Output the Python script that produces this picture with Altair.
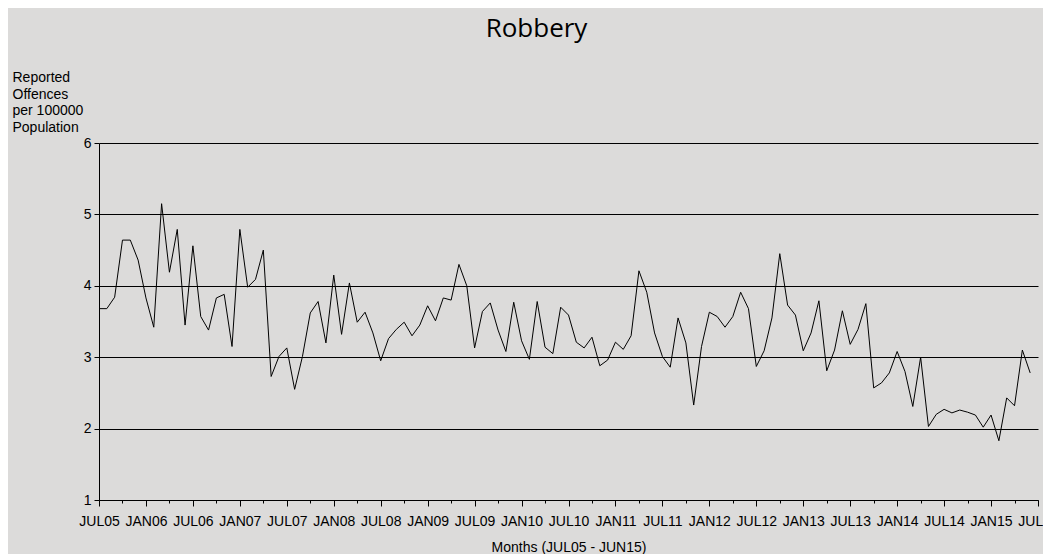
import altair as alt
import pandas as pd

title_text = "Robbery"
y_title_lines = ["Reported", "Offences", "per 100000", "Population"]
x_title = "Months (JUL05 - JUN15)"
tick_labels = ["JUL05", "JAN06", "JUL06", "JAN07", "JUL07", "JAN08", "JUL08",
               "JAN09", "JUL09", "JAN10", "JUL10", "JAN11", "JUL11", "JAN12",
               "JUL12", "JAN13", "JUL13", "JAN14", "JUL14", "JAN15", "JUL15"]
y_ticks = [1, 2, 3, 4, 5, 6]

# Monthly reported robbery offences per 100000 population, JUL05 .. JUN15
rate = [
    3.68, 3.68, 3.84, 4.64, 4.64, 4.36, 3.83, 3.42, 5.15, 4.19, 4.79, 3.45,
    4.56, 3.57, 3.38, 3.83, 3.88, 3.15, 4.79, 3.98, 4.09, 4.50, 2.73, 3.01,
    3.13, 2.55, 3.01, 3.62, 3.78, 3.20, 4.15, 3.32, 4.04, 3.49, 3.63, 3.34,
    2.95, 3.26, 3.39, 3.49, 3.30, 3.45, 3.72, 3.51, 3.83, 3.80, 4.30, 4.00,
    3.13, 3.64, 3.76, 3.38, 3.08, 3.77, 3.23, 2.97, 3.78, 3.14, 3.05, 3.70,
    3.59, 3.21, 3.13, 3.28, 2.88, 2.96, 3.21, 3.11, 3.30, 4.21, 3.91, 3.34,
    3.01, 2.86, 3.55, 3.20, 2.33, 3.15, 3.63, 3.57, 3.42, 3.57, 3.91, 3.68,
    2.87, 3.09, 3.55, 4.45, 3.73, 3.59, 3.09, 3.34, 3.79, 2.81, 3.10, 3.65,
    3.18, 3.39, 3.75, 2.57, 2.64, 2.78, 3.08, 2.80, 2.31, 3.00, 2.03, 2.20,
    2.27, 2.22, 2.26, 2.23, 2.19, 2.02, 2.19, 1.83, 2.43, 2.32, 3.10, 2.78,
]
month_index = list(range(len(rate)))

df = pd.DataFrame({"month": month_index, "rate": rate})

n_months = 6 * (len(tick_labels) - 1)
label_js = "[" + ",".join("'" + s + "'" for s in tick_labels) + "]"
label_expr = "datum.value % 6 === 0 ? " + label_js + "[datum.value / 6] : ''"

FONT = "Liberation Sans"
BG = "#dcdbda"

x_axis = alt.Axis(
    values=list(range(0, n_months + 1, 3)),
    labelExpr=label_expr,
    grid=False,
    domainColor="black",
    domainWidth=1,
    tickColor="black",
    tickWidth=1,
    tickSize={"condition": {"test": "datum.value % 6 === 0", "value": 6}, "value": 3},
    labelFont=FONT,
    labelFontSize=14,
    labelColor="black",
    labelPadding=8,
    labelFlush=False,
    labelOverlap=False,
    title=x_title,
    titleFont=FONT,
    titleFontSize=14,
    titleFontWeight="normal",
    titleColor="black",
    titleX=469.5,
    titleY=51.2,
    titleAlign="center",
    titleBaseline="alphabetic",
)

y_axis = alt.Axis(
    values=y_ticks,
    grid=True,
    gridColor="black",
    gridWidth=1,
    gridOpacity=1,
    domainColor="black",
    domainWidth=1,
    tickColor="black",
    tickSize=5,
    labelFont=FONT,
    labelFontSize=14,
    labelColor="black",
    labelPadding=3,
    title=y_title_lines,
    titleFont=FONT,
    titleFontSize=14,
    titleFontWeight="normal",
    titleColor="black",
    titleAngle=0,
    titleAlign="left",
    titleBaseline="alphabetic",
    titleX=-87,
    titleY=-61.6,
    titleLineHeight=16.7,
)

chart = (
    alt.Chart(df)
    .mark_line(color="black", strokeWidth=1)
    .encode(
        x=alt.X("month:Q", scale=alt.Scale(domain=[0, n_months], nice=False, zero=False), axis=x_axis),
        y=alt.Y("rate:Q", scale=alt.Scale(domain=[1, 6], nice=False, zero=False), axis=y_axis),
    )
    .properties(
        width=939,
        height=357,
        autosize=alt.AutoSizeParams(type="none"),
        padding={"left": 91, "top": 135, "right": 5, "bottom": 54},
        background=BG,
        title=alt.TitleParams(
            title_text,
            font="Open Sans",
            fontSize=26,
            fontWeight="normal",
            color="black",
            anchor="middle",
            dx=-32,
            dy=-24,
        ),
    )
    .configure_view(strokeOpacity=0)
)

chart.save("out.html", embed_options={"renderer": "svg", "actions": False})
